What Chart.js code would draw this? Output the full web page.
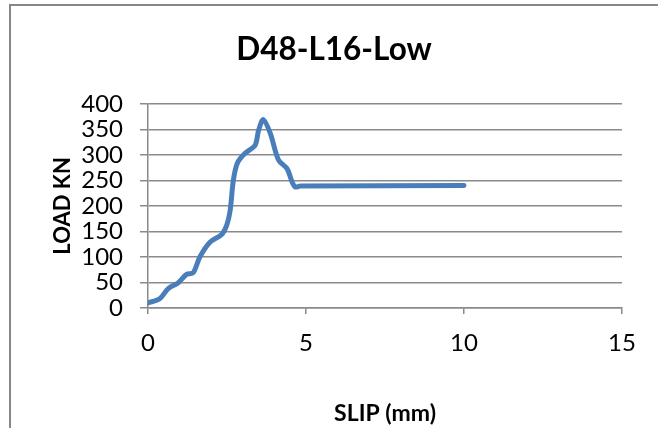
<!DOCTYPE html>
<html>
<head>
<meta charset="utf-8">
<script src="https://cdn.jsdelivr.net/npm/chart.js@4/dist/chart.umd.min.js"></script>
<style>
  html, body { margin: 0; padding: 0; background: #fff; overflow: hidden; }
  #wrap { position: relative; width: 658px; height: 428px; }
  #frame { position: absolute; left: 9px; top: 4px; width: 700px; height: 500px;
           border-top: 2px solid #878787; border-left: 2px solid #878787; pointer-events: none; }
  canvas { position: absolute; left: 0; top: 0; }
</style>
</head>
<body>
<div id="wrap">
  <canvas id="c" width="658" height="428"></canvas>
  <div id="frame"></div>
</div>
<script>
const chartTitle = 'D48-L16-Low';
const xTitle = 'SLIP (mm)';
const yTitle = 'LOAD KN';
const slip = [0, 0.37, 0.64, 0.95, 1.22, 1.43, 1.64, 1.96, 2.33, 2.49, 2.6, 2.7, 2.83, 3.07, 3.39, 3.5, 3.65, 3.87, 4.13, 4.4, 4.56, 4.66, 4.82, 10];
const load = [10, 18, 38, 49, 66, 69, 100, 129, 144, 162, 191, 250, 284, 303, 319, 348, 369, 342, 290, 273, 247, 237, 239, 240];
const xTicks = [0, 5, 10, 15];
const yTicks = [0, 50, 100, 150, 200, 250, 300, 350, 400];

const points = slip.map((s, i) => ({ x: s, y: load[i] }));
const FONT = 'Lato, "Open Sans", sans-serif';

new Chart(document.getElementById('c'), {
  type: 'line',
  data: {
    datasets: [{
      data: points,
      borderColor: '#4a7ebb',
      borderWidth: 5,
      pointRadius: 0,
      tension: 0.3,
      borderCapStyle: 'round',
      borderJoinStyle: 'round',
      fill: false
    }]
  },
  options: {
    responsive: false,
    animation: false,
    layout: { padding: { left: 10, right: 0, top: 0, bottom: 0 } },
    plugins: {
      legend: { display: false },
      tooltip: { enabled: false },
      title: {
        display: true,
        text: chartTitle,
        color: '#000',
        font: { family: FONT, size: 31.5, weight: 'bold' },
        padding: { top: 31, bottom: 35 }
      }
    },
    scales: {
      x: {
        type: 'linear',
        min: xTicks[0], max: xTicks[xTicks.length - 1],
        afterBuildTicks: (s) => { s.ticks = xTicks.map(v => ({ value: v })); },
        afterFit: (s) => { s.height = 120; s.paddingRight = 36; s.paddingLeft = 0; },
        ticks: { color: '#000', font: { family: FONT, size: 24 }, padding: 15, maxRotation: 0, autoSkip: false },
        grid: { drawOnChartArea: false, drawTicks: true, tickLength: 6, color: '#8a8a8a', lineWidth: 1.5 },
        border: { display: true, color: '#8a8a8a', width: 1.5 },
        title: { display: true, text: xTitle, color: '#000', font: { family: FONT, size: 23, weight: 'bold' }, padding: { top: 0, bottom: 1 } }
      },
      y: {
        type: 'linear',
        min: yTicks[0], max: yTicks[yTicks.length - 1],
        afterBuildTicks: (s) => { s.ticks = yTicks.map(v => ({ value: v })); },
        afterFit: (s) => { s.width = 138; s.paddingTop = 0; s.paddingBottom = 0; },
        ticks: { color: '#000', font: { family: FONT, size: 24 }, padding: 17, autoSkip: false },
        grid: { drawOnChartArea: true, drawTicks: true, tickLength: 8, color: '#8a8a8a', lineWidth: 1.5 },
        border: { display: true, color: '#8a8a8a', width: 1.5 },
        title: { display: true, text: yTitle, color: '#000', font: { family: FONT, size: 22, weight: 'bold' }, padding: { top: 40, bottom: 0 } }
      }
    }
  }
});
</script>
</body>
</html>
